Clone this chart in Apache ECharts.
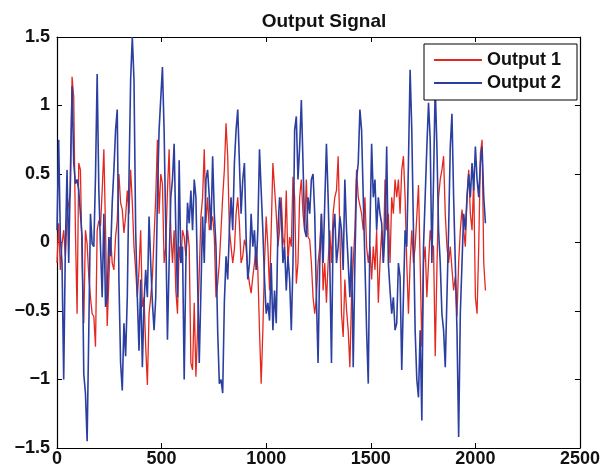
<!DOCTYPE html>
<html>
<head>
<meta charset="utf-8">
<script src="https://cdn.jsdelivr.net/npm/echarts@6/dist/echarts.min.js"></script>
<style>html,body{margin:0;padding:0;background:#fff}#c{width:603px;height:476px}</style>
</head>
<body>
<div id="c"></div>
<script>
var titleText = 'Output Signal';
var seriesNames = ['Output 1', 'Output 2'];
var sampleStep = 8;
var xTicks = [0, 500, 1000, 1500, 2000, 2500];
var yTicks = [-1.5, -1, -0.5, 0, 0.5, 1, 1.5];

var output1 = [
-0.15,0.14,-0.20,-0.01,0.09,-0.10,0.19,0.29,0.36,1.21,1.06,0.09,-0.52,0.58,0.53,-0.15,
-0.59,0.09,-0.01,-0.25,-0.40,-0.52,-0.54,-0.76,0.09,0.16,0.12,0.38,0.68,0.09,-0.61,-0.27,
0.04,-0.15,-0.20,0.04,0.16,0.50,0.29,0.24,0.07,0.19,0.38,0.21,0.53,0.29,-0.03,-0.20,
-0.40,-0.20,0.09,-0.47,-0.40,-0.76,-1.04,-0.52,-0.40,-0.25,0.04,0.33,0.75,0.21,0.50,0.43,
-0.15,-0.03,0.38,0.68,0.09,-0.15,0.09,-0.35,-0.52,-0.03,-0.15,0.09,0.04,-0.10,0.09,-0.03,
-0.88,-0.93,-0.44,-0.98,-0.64,-0.64,0.19,0.33,0.68,0.14,0.33,0.09,0.14,0.19,0.04,-0.40,
-0.30,-0.15,0.09,0.33,0.53,0.87,0.63,0.09,-0.03,-0.15,-0.05,0.21,0.33,0.14,-0.15,-0.10,
0.02,-0.03,-0.20,-0.30,-0.37,-0.25,-0.15,-0.03,-0.20,-0.64,-1.03,-0.64,-0.15,0.19,-0.03,-0.35,
0.09,0.58,
0.58,0.21,-0.03,0.09,0.33,0.04,-0.03,0.38,-0.15,0.04,-0.03,0.48,0.33,-0.30,-0.15,0.33,
0.46,0.21,0.09,0.46,0.04,0.02,-0.15,-0.40,-0.52,-0.40,-0.15,-0.03,0.21,-0.35,-0.15,-0.44,
-0.15,0.09,-0.15,0.21,0.33,0.38,0.63,0.09,-0.52,-0.69,-0.27,-0.49,-0.64,-0.91,-0.40,-0.15,
0.09,0.53,0.33,0.33,0.21,0.09,0.33,-0.03,-0.15,-0.03,-0.27,-0.03,-0.20,0.09,-0.44,-0.15,
0.09,-0.15,
0.46,0.09,0.21,-0.15,0.33,0.21,0.46,0.33,0.46,0.21,0.53,0.63,0.33,-0.15,-0.52,-0.15,
0.09,-0.15,-0.03,0.19,0.42,-0.15,-0.76,-0.15,-0.03,-0.40,-0.15,0.09,-0.01,-0.03,-0.83,-0.20,
0.33,0.46,0.53,0.63,0.21,-0.03,-0.15,-0.03,-0.03,-0.35,-0.25,-0.54,-0.15,0.09,0.24,0.09,
-0.03,0.33,0.53,0.21,0.09,0.46,-0.40,-0.52,-0.03,0.65,0.75,-0.15,-0.35
];

var output2 = [
0.09,0.75,0.04,-0.15,-1.00,-0.03,0.53,-0.15,-0.15,1.14,0.58,0.43,0.46,0.38,0.21,0.04,
-0.96,-1.10,-1.45,-0.64,0.21,-0.01,-0.03,0.48,1.23,0.38,-0.03,-0.40,0.21,-0.47,-0.40,0.04,
-0.10,0.29,0.53,0.82,0.97,-0.27,-0.88,-1.08,-0.59,-0.83,-0.40,0.46,1.19,1.50,1.19,0.09,
-0.40,-0.79,-0.27,-0.91,-0.44,-0.20,-0.40,0.19,-0.15,-0.44,-0.64,-0.40,0.33,0.82,0.82,1.28,
0.82,0.09,-0.71,-0.15,0.33,0.46,0.72,0.09,-0.40,0.60,-0.15,-0.03,-1.00,-0.15,0.29,0.14,
0.38,0.09,0.46,0.33,-0.27,-0.88,-0.35,0.19,-0.15,0.46,0.53,0.33,0.09,0.63,0.21,-0.03,
-0.64,-1.03,-1.00,-1.10,-0.44,-0.10,-0.27,0.09,0.33,0.09,0.58,0.82,0.97,0.58,0.21,0.46,
0.58,0.04,-0.27,-0.15,0.21,-0.03,0.09,-0.20,0.09,0.68,0.38,0.09,-0.27,-0.52,-0.44,-0.57,
-0.15,-0.64,
-0.35,-0.59,0.09,0.33,0.21,-0.15,-0.03,-0.35,-0.10,-0.27,-0.64,-0.15,0.82,0.92,0.46,0.70,
1.04,0.58,0.09,0.04,0.33,0.21,0.46,0.50,0.21,-0.40,-0.88,-0.15,0.21,-0.15,0.29,0.72,
0.33,-0.15,-0.88,0.09,0.21,-0.15,-0.03,0.19,0.09,-0.20,0.46,0.09,-0.15,-0.40,-0.03,-0.91,
-0.15,0.46,0.58,0.97,0.82,0.33,-0.15,-0.64,-1.03,0.09,0.72,0.33,0.46,0.09,0.33,0.21,
0.14,-0.15,
0.09,0.70,-0.15,-0.35,-0.52,-0.40,-0.64,-0.59,-0.15,-0.25,-0.93,-0.40,0.09,-0.03,0.58,1.26,
0.82,0.09,-0.64,-1.00,-1.13,-0.64,-1.30,-0.03,0.33,0.70,1.02,0.75,-0.15,0.46,1.14,0.70,
0.09,-0.15,-0.52,-0.64,-0.91,-0.40,0.09,0.70,0.94,0.33,-0.15,-0.64,-1.42,-0.52,-0.15,0.21,
0.09,0.33,0.50,0.33,0.58,0.38,0.70,0.46,0.33,0.58,0.70,0.33,0.14
];

function toPairs(arr) {
  var out = [];
  for (var i = 0; i < arr.length; i++) out.push([i * sampleStep, arr[i]]);
  return out;
}
function fmtY(v) {
  var s = String(Math.abs(v));
  return (v < 0 ? '\u2212' : '') + s;
}
function fmtX(v) { return String(v); }

var font = 'Liberation Sans, Arial, Helvetica, sans-serif';
var chart = echarts.init(document.getElementById('c'), null, {renderer: 'canvas'});
var axisLine = {show: true, onZero: false, lineStyle: {color: '#000', width: 1.2}};
var tickIn = {show: true, inside: true, length: 5, lineStyle: {color: '#000'}};
var labelStyle = {color: '#111', fontSize: 18, fontWeight: 'bold', fontFamily: font};

chart.setOption({
  animation: false,
  backgroundColor: '#fff',
  title: {
    text: titleText, left: 319, top: 7, textAlign: 'center',
    textStyle: {color: '#111', fontSize: 19, fontWeight: 'bold', fontFamily: font}
  },
  grid: {left: 57, right: 22, top: 37, bottom: 28, containLabel: false, show: false},
  legend: {
    data: seriesNames, orient: 'vertical', right: 26, top: 44,
    itemWidth: 48, itemHeight: 2, itemGap: 5,
    icon: 'rect',
    backgroundColor: '#fff', borderColor: '#000', borderWidth: 1,
    padding: [7, 16, 8, 10],
    textStyle: {color: '#111', fontSize: 18, fontWeight: 'bold', fontFamily: font}
  },
  xAxis: [
    {type: 'value', min: xTicks[0], max: xTicks[xTicks.length - 1], interval: 500,
     axisLine: axisLine, axisTick: tickIn, splitLine: {show: false},
     axisLabel: Object.assign({margin: 2, formatter: fmtX}, labelStyle)},
    {type: 'value', position: 'top', min: xTicks[0], max: xTicks[xTicks.length - 1], interval: 500,
     axisLine: axisLine, axisTick: tickIn, splitLine: {show: false}, axisLabel: {show: false}}
  ],
  yAxis: [
    {type: 'value', min: yTicks[0], max: yTicks[yTicks.length - 1], interval: 0.5,
     axisLine: axisLine, axisTick: tickIn, splitLine: {show: false},
     axisLabel: Object.assign({margin: 7, formatter: fmtY}, labelStyle)},
    {type: 'value', position: 'right', min: yTicks[0], max: yTicks[yTicks.length - 1], interval: 0.5,
     axisLine: axisLine, axisTick: tickIn, splitLine: {show: false}, axisLabel: {show: false}}
  ],
  series: [
    {name: seriesNames[0], type: 'line', data: toPairs(output1), showSymbol: false, symbol: 'none',
     lineStyle: {color: '#E3281F', width: 1.3}, itemStyle: {color: '#E3281F'}},
    {name: seriesNames[1], type: 'line', data: toPairs(output2), showSymbol: false, symbol: 'none',
     lineStyle: {color: '#2B3FA0', width: 1.6}, itemStyle: {color: '#2B3FA0'}}
  ]
});
</script>
</body>
</html>
